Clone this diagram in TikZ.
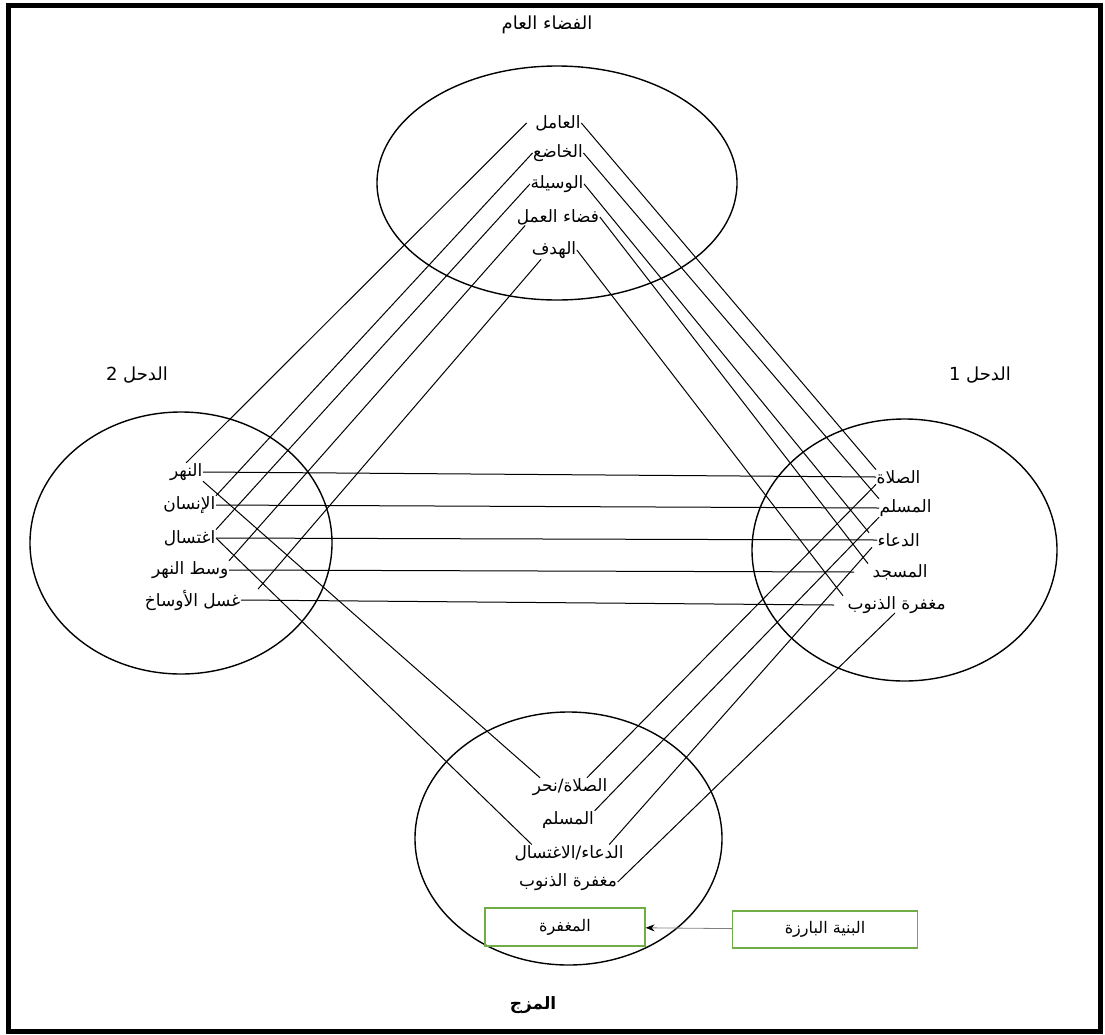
\documentclass[tikz,border=0pt]{standalone}
\usepackage{fontspec}
\newfontfamily\arabicfont[Script=Arabic]{DejaVu Sans}
\TeXXeTstate=1
\usetikzlibrary{shapes.geometric,arrows.meta}
\definecolor{boxgreen}{RGB}{112,173,71}
\newcommand{\ar}[1]{\beginR #1\endR}

\begin{document}
\begin{tikzpicture}[x=1pt,y=-1pt,
    space/.style={draw, ellipse, line width=1.4pt, inner sep=0pt},
    word/.style={font=\arabicfont\fontsize{17}{20}\selectfont, inner sep=0.5pt},
    title/.style={font=\arabicfont\fontsize{18}{20}\selectfont},
    link/.style={line width=1pt},
    gbox/.style={draw=boxgreen, line width=1.2pt, font=\arabicfont\fontsize{16}{20}\selectfont}]
\useasboundingbox (0,0) rectangle (1105,1034);
\draw[line width=5pt] (8.5,5.5) rectangle (1100.5,1031.5);

% mental spaces
\node[space, minimum width=360pt, minimum height=234pt] (gen) at (557,183) {};
\node[space, minimum width=302pt, minimum height=262pt] (in2) at (181,543) {};
\node[space, minimum width=305pt, minimum height=262pt] (in1) at (904.5,550) {};
\node[space, minimum width=307pt, minimum height=253pt] (blend) at (568.5,838.5) {};

% titles
\node[title] (gen-t) at (547,25) {\ar{الفضاء العام}};
\node[title] (in2-t) at (137,375) {\ar{الدحل 2}};
\node[title] (in1-t) at (980,375) {\ar{الدحل 1}};
\node[title, font=\arabicfont\bfseries\fontsize{17}{20}\selectfont] (blend-t) at (533,1005) {\ar{المزج}};

% generic space
\node[word] (t1) at (558,123) {\ar{العامل}};
\node[word] (t2) at (558,153) {\ar{الخاضع}};
\node[word] (t3) at (557,184) {\ar{الوسيلة}};
\node[word] (t4) at (558,217) {\ar{فضاء العمل}};
\node[word] (t5) at (554,250) {\ar{الهدف}};

% input 2
\node[word, anchor=east] (l1) at (203,472) {\ar{النهر}};
\node[word, anchor=east] (l2) at (216,505) {\ar{الإنسان}};
\node[word, anchor=east] (l3) at (216,538) {\ar{اغتسال}};
\node[word, anchor=east] (l4) at (229,570) {\ar{وسط النهر}};
\node[word, anchor=east] (l5) at (241,600) {\ar{غسل الأوساخ}};

% input 1
\node[word, anchor=west] (r1) at (876,477) {\ar{الصلاة}};
\node[word, anchor=west] (r2) at (879,508) {\ar{المسلم}};
\node[word, anchor=west] (r3) at (877,540) {\ar{الدعاء}};
\node[word, anchor=west] (r4) at (872,572) {\ar{المسجد}};
\node[word, anchor=west] (r5) at (847,605) {\ar{مغفرة الذنوب}};

% blend
\node[word] (b1) at (570,787) {\ar{الصلاة/نحر}};
\node[word] (b2) at (568,820) {\ar{المسلم}};
\node[word] (b3) at (569,853) {\ar{الدعاء/الاغتسال}};
\node[word] (b4) at (568,882) {\ar{مغفرة الذنوب}};

\node[gbox, minimum width=160pt, minimum height=38pt] (emerg) at (565,927) {\ar{المغفرة}};
\node[gbox, minimum width=185pt, minimum height=37pt] (struct) at (825,929.5) {\ar{البنية البارزة}};

% generic -> input 2
\draw[link] ([xshift=-8pt]t1.west) -- (l1.north);
\draw[link] (t2.west) -- (l2.north east);
\draw[link] (t3.west) -- (l3.north east);
\draw[link] ([xshift=9pt]t4.south west) -- (l4.north east);
\draw[link] ([xshift=10pt]t5.south west) -- ([xshift=17pt]l5.north east);

% generic -> input 1
\draw[link] (t1.east) -- (r1.north west);
\draw[link] (t2.east) -- (r2.north west);
\draw[link] (t3.east) -- ([xshift=-8pt]r3.north west);
\draw[link] (t4.east) -- ([xshift=-4pt]r4.north west);
\draw[link] (t5.east) -- ([xshift=-4pt]r5.north west);

% input 2 -- input 1
\draw[link] (l1.east) -- (r1.west);
\draw[link] (l2.east) -- (r2.west);
\draw[link] (l3.east) -- (r3.west);
\draw[link] (l4.east) -- ([xshift=-18pt]r4.west);
\draw[link] (l5.east) -- ([xshift=-13pt]r5.west);

% inputs -> blend
\draw[link] (l1.south east) -- ([xshift=8pt]b1.north west);
\draw[link] (l3.east) -- ([xshift=18pt]b3.north west);
\draw[link] ([xshift=-21pt]b1.north east) -- (r1.south west);
\draw[link] (b2.north east) -- (r2.south west);
\draw[link] ([xshift=-15pt]b3.north east) -- ([xshift=-5pt]r3.south west);
\draw[link] (b4.east) -- ([xshift=48pt,yshift=-8pt]r5.west);

% emergent structure
\draw[gray, line width=0.8pt, -{Stealth[black,length=9pt,width=7pt]}] (struct) -- (emerg);
\end{tikzpicture}
\end{document}
